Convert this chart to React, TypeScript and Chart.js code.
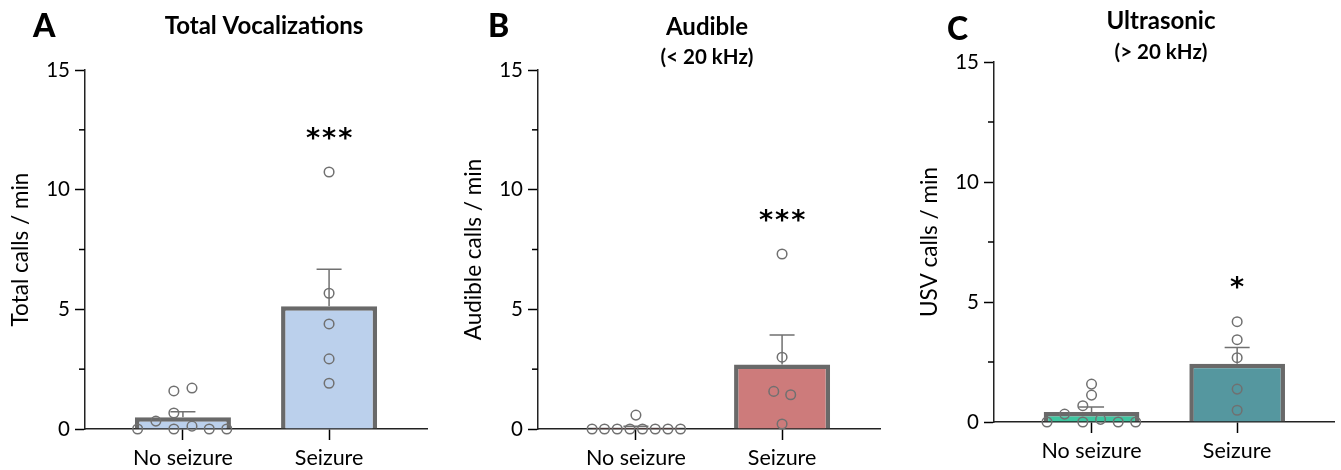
import { useEffect, useRef } from 'react';
import { Chart, registerables } from 'chart.js';

Chart.register(...registerables);

// ---------- data ----------
const categories = ['No seizure', 'Seizure'];
const yTickValues = [0, 5, 10, 15];
const yMinorTickValues = [2.5, 7.5, 12.5];

// Panel A – Total vocalizations
const totalNoSeizureValues = [0, 0.33, 1.59, 1.71, 0.67, 0, 0.12, 0, 0];
const totalNoSeizureOffsets = [-0.31, -0.185, -0.062, 0.062, -0.062, -0.062, 0.062, 0.18, 0.3];
const totalSeizureValues = [10.74, 5.67, 4.39, 2.93, 1.91];
const totalSeizureOffsets = [0, 0, 0, 0, 0];
const totalMeans = [0.49, 5.13];
const totalSems = [0.23, 1.55];

// Panel B – Audible (< 20 kHz)
const audibleNoSeizureValues = [0, 0, 0, 0, 0, 0, 0, 0, 0.58];
const audibleNoSeizureOffsets = [-0.3, -0.215, -0.128, -0.041, 0.045, 0.132, 0.219, 0.305, 0];
const audibleSeizureValues = [7.31, 3.0, 1.57, 1.43, 0.21];
const audibleSeizureOffsets = [0, 0, -0.057, 0.059, 0];
const audibleMeans = [0.06, 2.7];
const audibleSems = [0.06, 1.23];

// Panel C – Ultrasonic (> 20 kHz)
const usvNoSeizureValues = [0, 0.33, 0.68, 1.12, 1.58, 0, 0.11, 0, 0];
const usvNoSeizureOffsets = [-0.306, -0.185, -0.06, 0, 0, -0.06, 0.062, 0.183, 0.303];
const usvSeizureValues = [4.18, 3.43, 2.68, 1.37, 0.49];
const usvSeizureOffsets = [0, 0, 0, 0, 0];
const usvMeans = [0.42, 2.43];
const usvSems = [0.2, 0.67];

const significance = ['***', '***', '*'];

// ---------- styles ----------
const FONT = 'Lato, "Open Sans", sans-serif';
const STAR_FONT = '"DejaVu Sans", sans-serif';
const GREY = '#696969';
const POINT_GREY = '#707070';

type Panel = {
  letter: string;
  title: string;
  subtitle?: string;
  yTitle: string;
  noValues: number[];
  noOffsets: number[];
  szValues: number[];
  szOffsets: number[];
  means: number[];
  sems: number[];
  stars: string;
  colors: string[];
  left: number;
  pad: { left: number; right: number; top: number };
  xAxisHeight: number;
  letterX: number;
  letterY: number;
  titleX: number;
  titleY: number;
  subtitleY?: number;
};

const panels: Panel[] = [
  {
    letter: 'A', title: 'Total Vocalizations', yTitle: 'Total calls / min',
    noValues: totalNoSeizureValues, noOffsets: totalNoSeizureOffsets,
    szValues: totalSeizureValues, szOffsets: totalSeizureOffsets,
    means: totalMeans, sems: totalSems, stars: significance[0],
    colors: ['#BBD0EC', '#BBD0EC'],
    left: 0, pad: { left: 0, right: 20, top: 70 }, xAxisHeight: 41,
    letterX: 33, letterY: 25, titleX: 264, titleY: 25,
  },
  {
    letter: 'B', title: 'Audible', subtitle: '(< 20 kHz)', yTitle: 'Audible calls / min',
    noValues: audibleNoSeizureValues, noOffsets: audibleNoSeizureOffsets,
    szValues: audibleSeizureValues, szOffsets: audibleSeizureOffsets,
    means: audibleMeans, sems: audibleSems, stars: significance[1],
    colors: ['#CD7B7B', '#CD7B7B'],
    left: 447, pad: { left: 6, right: 14, top: 70 }, xAxisHeight: 41,
    letterX: 41, letterY: 25, titleX: 260, titleY: 26.5, subtitleY: 56.5,
  },
  {
    letter: 'C', title: 'Ultrasonic', subtitle: '(> 20 kHz)', yTitle: 'USV calls / min',
    noValues: usvNoSeizureValues, noOffsets: usvNoSeizureOffsets,
    szValues: usvSeizureValues, szOffsets: usvSeizureOffsets,
    means: usvMeans, sems: usvSems, stars: significance[2],
    colors: ['#3EC6A0', '#55979F'],
    left: 894, pad: { left: 15, right: 4, top: 62 }, xAxisHeight: 48,
    letterX: 53, letterY: 28, titleX: 267, titleY: 20, subtitleY: 51.5,
  },
];

function PanelChart({ p }: { p: Panel }) {
  const ref = useRef<HTMLCanvasElement | null>(null);

  useEffect(() => {
    if (!ref.current) return;

    const points = [
      ...p.noValues.map((y, i) => ({ x: 0 + p.noOffsets[i], y })),
      ...p.szValues.map((y, i) => ({ x: 1 + p.szOffsets[i], y })),
    ];

    const decorations = {
      id: 'decorations',
      afterDatasetDraw(chart: any, args: any) {
        if (args.index !== 1) return;
        const { ctx } = chart;
        const xs = chart.scales.x;
        const ys = chart.scales.y;
        ctx.save();
        ctx.strokeStyle = POINT_GREY;
        ctx.lineWidth = 1.5;
        p.means.forEach((m, i) => {
          const x = xs.getPixelForValue(i);
          const y0 = ys.getPixelForValue(m);
          const y1 = ys.getPixelForValue(m + p.sems[i]);
          ctx.beginPath();
          ctx.moveTo(x, y0);
          ctx.lineTo(x, y1);
          ctx.moveTo(x - 12.5, y1);
          ctx.lineTo(x + 12.5, y1);
          ctx.stroke();
        });
        ctx.restore();
      },
      afterDraw(chart: any) {
        const { ctx, chartArea } = chart;
        const xs = chart.scales.x;
        const ys = chart.scales.y;
        ctx.save();
        // minor ticks
        ctx.strokeStyle = '#000';
        ctx.lineWidth = 1.5;
        yMinorTickValues.forEach((v) => {
          const y = ys.getPixelForValue(v);
          ctx.beginPath();
          ctx.moveTo(chartArea.left - 6, y);
          ctx.lineTo(chartArea.left, y);
          ctx.stroke();
        });
        // significance stars
        const top = Math.max(...p.szValues) + 1.55;
        ctx.fillStyle = '#000';
        ctx.textAlign = 'center';
        ctx.textBaseline = 'middle';
        ctx.font = `bold 27px ${STAR_FONT}`;
        (ctx as any).letterSpacing = '2px';
        ctx.fillText(p.stars, xs.getPixelForValue(1) + 1, ys.getPixelForValue(top) + 5);
        (ctx as any).letterSpacing = '0px';
        // panel letter
        ctx.textAlign = 'left';
        ctx.font = `900 32px ${FONT}`;
        ctx.fillText(p.letter, p.letterX, p.letterY + 2);
        // titles
        ctx.textAlign = 'center';
        ctx.font = `bold 24px ${FONT}`;
        ctx.fillText(p.title, p.titleX, p.titleY + 1);
        if (p.subtitle && p.subtitleY !== undefined) {
          ctx.font = `bold 20.5px ${FONT}`;
          ctx.fillText(p.subtitle, p.titleX, p.subtitleY + 1);
        }
        ctx.restore();
      },
    };

    const chart = new Chart(ref.current, {
      type: 'bar',
      data: {
        datasets: [
          {
            type: 'scatter',
            data: points,
            pointStyle: 'circle',
            pointRadius: 4.8,
            pointBorderWidth: 1.5,
            pointBorderColor: POINT_GREY,
            pointBackgroundColor: 'rgba(0,0,0,0)',
            showLine: false,
            clip: false,
            order: 1,
          } as any,
          {
            type: 'bar',
            data: p.means.map((y, i) => ({ x: i, y })),
            backgroundColor: p.colors,
            borderColor: GREY,
            borderWidth: 4.5,
            borderSkipped: 'start',
            categoryPercentage: 1,
            barPercentage: 0.657,
            order: 2,
          } as any,
        ],
      },
      plugins: [decorations],
      options: {
        responsive: false,
        animation: false,
        devicePixelRatio: 1,
        layout: { padding: { left: p.pad.left, right: p.pad.right, top: p.pad.top, bottom: 0 } },
        plugins: { legend: { display: false }, tooltip: { enabled: false }, title: { display: false } },
        scales: {
          x: {
            type: 'linear',
            min: -0.67,
            max: 1.67,
            offset: false,
            z: 1,
            afterBuildTicks: (axis: any) => {
              axis.ticks = categories.map((_, i) => ({ value: i }));
            },
            afterFit: (axis: any) => {
              axis.height = p.xAxisHeight;
            },
            ticks: {
              autoSkip: false,
              maxRotation: 0,
              padding: 5,
              color: '#000',
              font: { family: FONT, size: 21.5 },
              callback: (v: any) => categories[Math.round(Number(v))] ?? '',
            },
            grid: {
              offset: false,
              drawOnChartArea: false,
              drawTicks: true,
              tickLength: 11,
              tickColor: '#000',
              tickWidth: 1.5,
            },
            border: { display: true, color: '#222', width: 1.5 },
          },
          y: {
            type: 'linear',
            min: 0,
            max: 15,
            z: 1,
            afterBuildTicks: (axis: any) => {
              axis.ticks = yTickValues.map((value) => ({ value }));
            },
            afterFit: (axis: any) => {
              axis.width = 85;
            },
            ticks: {
              padding: 5,
              color: '#000',
              font: { family: FONT, size: 20.5 },
            },
            grid: { drawOnChartArea: false, drawTicks: true, tickLength: 10, tickColor: '#000', tickWidth: 1.5 },
            border: { display: true, color: '#222', width: 1.5 },
            title: {
              display: true,
              text: p.yTitle,
              color: '#000',
              font: { family: FONT, size: 22.5 },
              padding: { top: 7, bottom: 0 },
            },
          },
        },
      } as any,
    });

    return () => chart.destroy();
  }, [p]);

  return (
    <canvas
      ref={ref}
      width={447}
      height={470}
      style={{ position: 'absolute', left: p.left, top: 0, width: 447, height: 470 }}
    />
  );
}

export default function App() {
  return (
    <div style={{ position: 'absolute', left: 0, top: 0, width: 1341, height: 470, background: '#fff' }}>
      {panels.map((p) => (
        <PanelChart key={p.letter} p={p} />
      ))}
    </div>
  );
}
